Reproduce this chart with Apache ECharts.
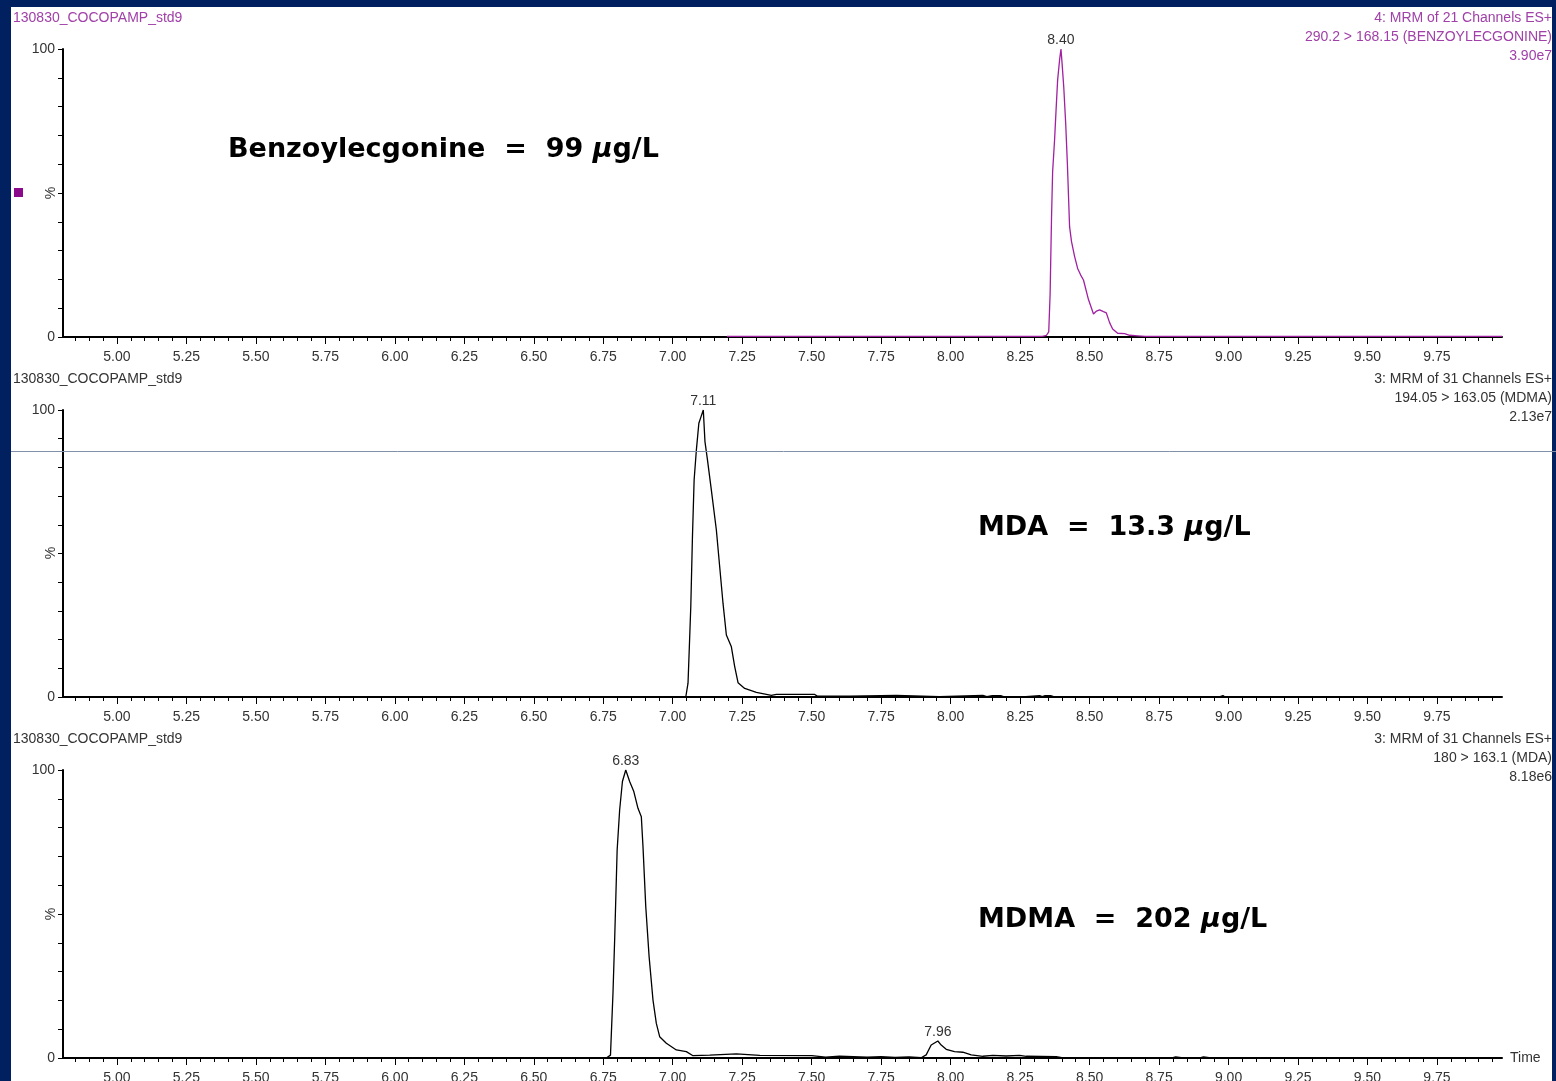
<!DOCTYPE html>
<html>
<head>
<meta charset="utf-8">
<script src="https://cdn.jsdelivr.net/npm/echarts@6/dist/echarts.min.js"></script>
<style>
html,body{margin:0;padding:0;background:#002060;}
#chart{width:1556px;height:1081px;}
</style>
</head>
<body>
<div id="chart"></div>
<script>
// ---------- data ----------
// Panel 1: 290.2 > 168.15 (BENZOYLECGONINE)
var bzeTime  = [7.195, 7.5, 7.8, 8.1, 8.33, 8.345, 8.353, 8.358, 8.36, 8.363, 8.367, 8.374, 8.38, 8.385, 8.392, 8.397, 8.401, 8.407, 8.414, 8.42, 8.428, 8.435, 8.446, 8.457, 8.468, 8.478, 8.496, 8.514, 8.525, 8.536, 8.55, 8.56, 8.572, 8.583, 8.601, 8.626, 8.644, 8.673, 8.7, 9.0, 9.5, 9.984];
var bzeAbund = [0.2, 0.2, 0.2, 0.2, 0.2, 0.6, 1.8, 15, 25.6, 41.2, 57.4, 68.4, 80, 89.2, 96.2, 100, 95, 86.9, 74.2, 60.4, 38.3, 33.1, 28, 23.8, 21.5, 19.8, 13, 8, 9, 9.4, 8.8, 8.4, 5, 2.8, 1.3, 1.2, 0.6, 0.4, 0.2, 0.2, 0.2, 0.2];

// Panel 2: 194.05 > 163.05 (MDMA)
var mdaTime  = [4.806, 7.0, 7.047, 7.055, 7.06, 7.065, 7.071, 7.077, 7.085, 7.094, 7.102, 7.11, 7.116, 7.125, 7.139, 7.157, 7.169, 7.181, 7.193, 7.211, 7.223, 7.235, 7.259, 7.301, 7.355, 7.373, 7.511, 7.52, 7.637, 7.643, 7.805, 7.81, 7.96, 7.966, 8.116, 8.13, 8.15, 8.18, 8.19, 8.27, 8.275, 8.32, 8.33, 8.34, 8.36, 8.37, 8.97, 8.98, 8.986];
var mdaAbund = [0, 0, 0, 4.8, 18, 31.5, 55.9, 75.6, 86, 95.4, 97.7, 100, 89, 82.6, 72.1, 58.2, 45.4, 32.6, 21.6, 17.5, 10.6, 5, 3, 1.6, 0.6, 0.9, 0.9, 0.3, 0.3, 0.6, 0.6, 0.1, 0.1, 0.6, 0.6, 0.1, 0.5, 0.5, 0.1, 0.1, 0.5, 0.5, 0.1, 0.5, 0.5, 0.1, 0.1, 0.5, 0.1];

// Panel 3: 180 > 163.1 (MDA)
var mdmaTime  = [4.806, 6.5, 6.761, 6.776, 6.785, 6.791, 6.8, 6.809, 6.819, 6.831, 6.845, 6.86, 6.875, 6.887, 6.893, 6.903, 6.915, 6.929, 6.941, 6.953, 6.977, 7.013, 7.049, 7.073, 7.133, 7.229, 7.313, 7.5, 7.55, 7.6, 7.7, 7.75, 7.8, 7.85, 7.894, 7.912, 7.93, 7.954, 7.966, 7.984, 8.014, 8.044, 8.074, 8.116, 8.152, 8.2, 8.248, 8.272, 8.38, 8.4, 8.8, 8.81, 8.83, 8.9, 8.91, 8.93, 8.986];
var mdmaAbund = [0, 0, 0, 1, 22.5, 41, 72.2, 86.1, 96, 100, 96, 92.5, 86.7, 83.8, 73.4, 52.5, 35.2, 20.1, 12, 7.4, 5.1, 2.8, 2.2, 0.8, 1, 1.4, 0.9, 0.8, 0.3, 0.6, 0.3, 0.5, 0.2, 0.4, 0.1, 1.1, 4.5, 5.9, 4.5, 3, 2.2, 2, 1.1, 0.6, 0.9, 0.7, 0.9, 0.6, 0.5, 0.1, 0.1, 0.4, 0.1, 0.1, 0.4, 0.1, 0.1];

// peak labels [time, abundance] per panel
var bzePeaks  = [[8.397, 100]];
var mdaPeaks  = [[7.11, 100]];
var mdmaPeaks = [[6.831, 100], [7.954, 5.9]];
var bzePeakLabels  = ['8.40'];
var mdaPeakLabels  = ['7.11'];
var mdmaPeakLabels = ['6.83', '7.96'];

// axis tick labels
var timeTicks = [5.00, 5.25, 5.50, 5.75, 6.00, 6.25, 6.50, 6.75, 7.00, 7.25, 7.50, 7.75, 8.00, 8.25, 8.50, 8.75, 9.00, 9.25, 9.50, 9.75];
var xMin = 4.806, xMax = 9.984;

// header texts
var sampleName = '130830_COCOPAMP_std9';
var headers = [
  ['4: MRM of 21 Channels ES+', '290.2 > 168.15 (BENZOYLECGONINE)', '3.90e7'],
  ['3: MRM of 31 Channels ES+', '194.05 > 163.05 (MDMA)', '2.13e7'],
  ['3: MRM of 31 Channels ES+', '180 > 163.1 (MDA)', '8.18e6']
];
var annotations = [
  ['Benzoylecgonine  =  99 ', 'μ', 'g/L'],
  ['MDA  =  13.3 ', 'μ', 'g/L'],
  ['MDMA  =  202 ', 'μ', 'g/L']
];

// ---------- chart ----------
var minorTicks = [];
for (var k = 97; k <= 199; k++) minorTicks.push(+(k * 0.05).toFixed(2));
minorTicks = minorTicks.filter(function (v) { return v > xMin && v < xMax; });

var PURPLE = '#a020a0';
var PURPLE_TXT = '#a040a8';
var TXT = '#333333';
var FONT = 'Liberation Sans, Arial, sans-serif';

var grids = [
  {left: 63, top: 49, width: 1439, height: 288},
  {left: 63, top: 410, width: 1439, height: 287},
  {left: 63, top: 770, width: 1439, height: 288}
];

var xAxes = [], yAxes = [], series = [];
grids.forEach(function (g, i) {
  g.outerBoundsMode = 'none';
  g.containLabel = false;
  xAxes.push({
    type: 'value', gridIndex: i, min: xMin, max: xMax, position: 'bottom',
    axisLine: {show: true, onZero: false, lineStyle: {color: '#000', width: 2}},
    axisTick: {show: true, length: 7, customValues: timeTicks, lineStyle: {color: '#000', width: 1}},
    axisLabel: {show: true, customValues: timeTicks, margin: 13, color: TXT, fontFamily: FONT, fontSize: 14,
      formatter: function (v) { return v.toFixed(2); }},
    splitLine: {show: false},
    name: i === 2 ? 'Time' : '', nameLocation: 'end', nameGap: 8,
    nameTextStyle: {color: TXT, fontFamily: FONT, fontSize: 14, verticalAlign: 'middle', padding: [4, 0, 0, 0]}
  });
  xAxes.push({
    type: 'value', gridIndex: i, min: xMin, max: xMax, position: 'bottom',
    axisLine: {show: false},
    axisTick: {show: true, length: 4, customValues: minorTicks, lineStyle: {color: '#000', width: 1}},
    axisLabel: {show: false},
    splitLine: {show: false}
  });
  yAxes.push({
    type: 'value', gridIndex: i, min: 0, max: 100, interval: 10,
    axisLine: {show: true, lineStyle: {color: '#000', width: 2}},
    axisTick: {show: true, length: 5, lineStyle: {color: '#000', width: 1}},
    axisLabel: {show: true, margin: 8, color: TXT, fontFamily: FONT, fontSize: 14,
      formatter: function (v) { return (v === 0 || v === 100) ? String(v) : ''; }},
    splitLine: {show: false}
  });
});

function pairs(t, a) { return t.map(function (x, j) { return [x, a[j]]; }); }
function mp(peaks, labels) {
  return {
    symbol: 'circle', symbolSize: 0, silent: true,
    label: {show: true, position: 'top', distance: 2, color: TXT, fontFamily: FONT, fontSize: 14,
      formatter: function (p) { return labels[p.dataIndex]; }},
    data: peaks.map(function (p) { return {coord: p}; })
  };
}
var traces = [
  {t: bzeTime, a: bzeAbund, c: PURPLE, pk: bzePeaks, pl: bzePeakLabels},
  {t: mdaTime, a: mdaAbund, c: '#000', pk: mdaPeaks, pl: mdaPeakLabels},
  {t: mdmaTime, a: mdmaAbund, c: '#000', pk: mdmaPeaks, pl: mdmaPeakLabels}
];
traces.forEach(function (tr, i) {
  series.push({
    type: 'line', xAxisIndex: i * 2, yAxisIndex: i, data: pairs(tr.t, tr.a),
    showSymbol: false, symbol: 'none', animation: false, silent: true,
    lineStyle: {color: tr.c, width: 1.3}, z: 1,
    markPoint: mp(tr.pk, tr.pl)
  });
});

var graphics = [
  {type: 'rect', left: 11, top: 7, z: -10, shape: {width: 1541, height: 1074}, style: {fill: '#ffffff'}},
  {type: 'rect', left: 14, top: 188, z: 5, shape: {width: 9, height: 9}, style: {fill: '#8b0a8b'}}
];
var headTops = [17, 378, 738];
headTops.forEach(function (y, i) {
  var col = i === 0 ? PURPLE_TXT : TXT;
  graphics.push({type: 'text', left: 13, top: y - 6, z: 5,
    style: {text: sampleName, fill: col, font: '14px ' + FONT}});
  headers[i].forEach(function (line, j) {
    graphics.push({type: 'text', right: 4, top: y - 6 + j * 19, z: 5,
      style: {text: line, fill: col, font: '14px ' + FONT, align: 'right'}});
  });
});
// rotated "%" axis titles
var pctY = [193, 553, 914];
pctY.forEach(function (y) {
  graphics.push({type: 'text', x: 51, y: y, rotation: Math.PI / 2, z: 5,
    style: {text: '%', fill: TXT, font: '14px ' + FONT, align: 'center', verticalAlign: 'middle'}});
});
var annPos = [[228, 150], [978, 528], [978, 920]];
annotations.forEach(function (a, i) {
  graphics.push({type: 'text', x: annPos[i][0], y: annPos[i][1], z: 5,
    style: {
      text: '{n|' + a[0] + '}{i|' + a[1] + '}{n|' + a[2] + '}',
      verticalAlign: 'middle',
      rich: {
        n: {fontFamily: 'Comic Sans MS, DejaVu Sans, sans-serif', fontWeight: 'bold', fontSize: 27, fill: '#000'},
        i: {fontFamily: 'Comic Sans MS, DejaVu Sans, sans-serif', fontWeight: 'bold', fontStyle: 'italic', fontSize: 27, fill: '#000'}
      }
    }});
});
graphics.push({type: 'line', z: 20, shape: {x1: 11, y1: 451.5, x2: 1556, y2: 451.5},
  style: {stroke: '#8090a8', lineWidth: 1}});

var chart = echarts.init(document.getElementById('chart'), null, {renderer: 'canvas'});
chart.setOption({
  backgroundColor: '#002060',
  animation: false,
  grid: grids,
  xAxis: xAxes,
  yAxis: yAxes,
  series: series,
  graphic: graphics
});
</script>
</body>
</html>
